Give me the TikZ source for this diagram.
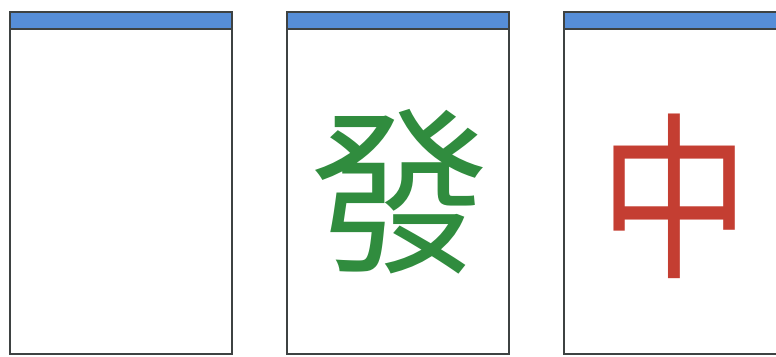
\documentclass[tikz,border=0pt]{standalone}
\usepackage{fontspec}
\usepackage{xcolor}
\newfontfamily\cjk{Noto Sans CJK SC}

\definecolor{tileblue}{RGB}{86,142,216}
\definecolor{tileedge}{RGB}{62,66,66}
\definecolor{dragongreen}{RGB}{48,140,62}
\definecolor{dragonred}{RGB}{196,62,50}

\tikzset{
  tileframe/.style={draw=tileedge, line width=1.2pt},
  topband/.style={fill=tileblue},
  dragon/.style={inner sep=0pt, font=\cjk\fontsize{102}{102}\selectfont}
}

\begin{document}
\begin{tikzpicture}[x=0.02cm,y=0.02cm]
    \useasboundingbox (0,0) rectangle (776,356);
    \clip (0,0) rectangle (776,356);

    % three tiles: white, green and red dragon
    \foreach \x in {10,287,564} {
        \fill[topband] (\x,327) rectangle (\x+222,344);
        \draw[tileframe] (\x,327) -- (\x+222,327);
        \draw[tileframe] (\x,2) rectangle (\x+222,344);
    }

    \node[dragon, text=dragongreen] (fa) at (400,164) {發};
    \node[dragon, text=dragonred, xscale=0.84] (zhong) at (675,160) {中};

\end{tikzpicture}
\end{document}
